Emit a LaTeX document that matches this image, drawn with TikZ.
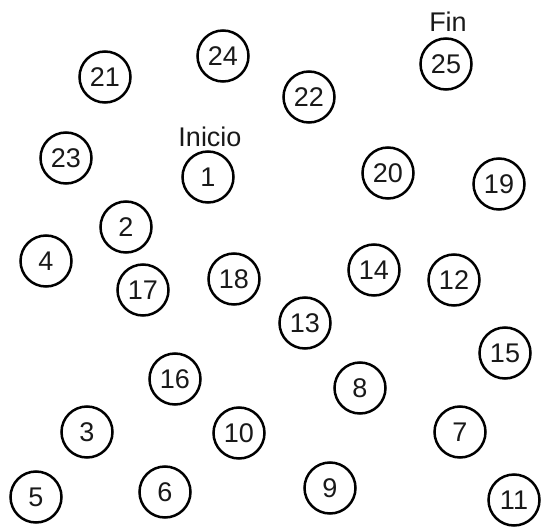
\documentclass[tikz,border=0pt]{standalone}
\usepackage{fontspec}
\setmainfont{Liberation Sans}
\begin{document}
\begin{tikzpicture}[x=1pt,y=-1pt,
  num/.style={circle,draw=black,line width=2.5pt,minimum size=51pt,inner sep=0pt,font=\fontsize{27}{27}\selectfont,text=black!90},
  lbl/.style={font=\fontsize{27}{27}\selectfont,text=black!90,inner sep=0pt}]
\useasboundingbox (0,0) rectangle (541,527);
\node[num] (n21) at (105,77) {21};
\node[num] (n24) at (223,56) {24};
\node[num] (n22) at (309,97) {22};
\node[num] (n25) at (446,64) {25};
\node[lbl] (fin) at (448,22) {Fin};
\node[num] (n23) at (66,158) {23};
\node[num] (n1) at (208,177) {1};
\node[lbl] (inicio) at (210,137) {Inicio};
\node[num] (n20) at (388,173) {20};
\node[num] (n19) at (499,184) {19};
\node[num] (n2) at (126,227) {2};
\node[num] (n4) at (46,261) {4};
\node[num] (n17) at (143,290) {17};
\node[num] (n18) at (234,279) {18};
\node[num] (n14) at (374,270) {14};
\node[num] (n12) at (454,280) {12};
\node[num] (n13) at (305,323) {13};
\node[num] (n15) at (505,353) {15};
\node[num] (n16) at (175,379) {16};
\node[num] (n8) at (360,388) {8};
\node[num] (n3) at (87,432) {3};
\node[num] (n10) at (239,433) {10};
\node[num] (n7) at (460,432) {7};
\node[num] (n5) at (36,497) {5};
\node[num] (n6) at (165,492) {6};
\node[num] (n9) at (330,488) {9};
\node[num] (n11) at (514,500) {11};
\end{tikzpicture}
\end{document}
